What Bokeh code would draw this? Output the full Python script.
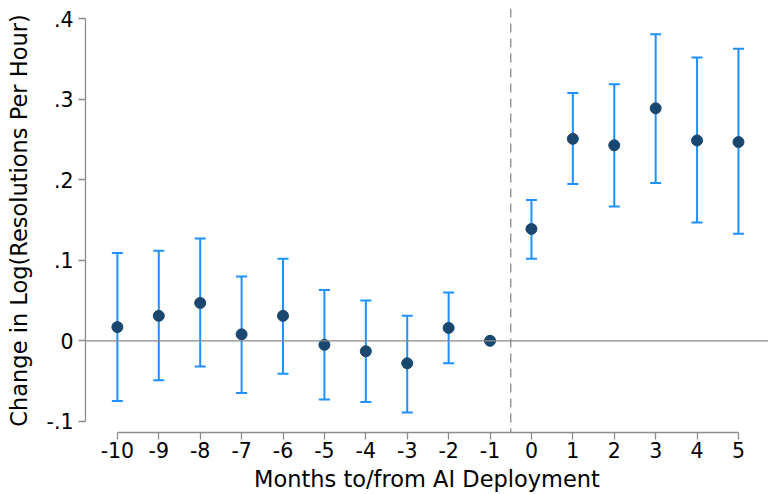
from bokeh.plotting import figure
from bokeh.models import ColumnDataSource, Whisker, TeeHead, Span, FixedTicker, Range1d
from bokeh.embed import file_html
from bokeh.resources import INLINE

months = [-10, -9, -8, -7, -6, -5, -4, -3, -2, -1, 0, 1, 2, 3, 4, 5]
month_labels = ["-10", "-9", "-8", "-7", "-6", "-5", "-4", "-3", "-2", "-1",
                "0", "1", "2", "3", "4", "5"]
coef = [0.017, 0.031, 0.047, 0.008, 0.031, -0.005, -0.013, -0.028, 0.016, 0.0,
        0.139, 0.251, 0.243, 0.289, 0.249, 0.247]
ci_low = [-0.075, -0.049, -0.032, -0.065, -0.041, -0.073, -0.076, -0.089, -0.028, 0.0,
          0.102, 0.195, 0.167, 0.196, 0.147, 0.133]
ci_high = [0.109, 0.112, 0.127, 0.080, 0.102, 0.063, 0.050, 0.031, 0.060, 0.0,
           0.175, 0.308, 0.319, 0.381, 0.352, 0.363]
y_ticks = [-0.1, 0.0, 0.1, 0.2, 0.3, 0.4]
y_tick_labels = ["-.1", "0", ".1", ".2", ".3", ".4"]
x_title = "Months to/from AI Deployment"
y_title = "Change in Log(Resolutions Per Hour)"

src = ColumnDataSource(dict(x=months, y=coef, lo=ci_low, hi=ci_high))

FONT = "DejaVu Sans"
AX = "#8c8c8c"

p = figure(width=768, height=494, output_backend="svg", toolbar_location=None,
           x_range=Range1d(-10.77, 5.725), y_range=Range1d(-0.114, 0.413),
           min_border_left=85, min_border_right=0, min_border_top=8, min_border_bottom=61)
p.outline_line_color = None
p.grid.visible = False
p.background_fill_color = "white"
p.border_fill_color = "white"

p.add_layout(Span(location=0, dimension="width", line_color="#8a8a8a", line_width=1.3))
p.add_layout(Span(location=-0.5, dimension="height", line_color="#8a8a8a",
                  line_width=1.3, line_dash="9 6"))

p.scatter("x", "y", source=src, size=11, color="#1a476f")

w = Whisker(base="x", lower="lo", upper="hi", source=src, line_color="#1e90ff", line_width=2,
            upper_head=TeeHead(size=11, line_color="#1e90ff", line_width=2),
            lower_head=TeeHead(size=11, line_color="#1e90ff", line_width=2))
p.add_layout(w)

xa = p.xaxis[0]
xa.ticker = FixedTicker(ticks=months)
xa.major_label_overrides = {t: l for t, l in zip(months, month_labels)}
xa.bounds = (-10, 5)
xa.axis_label = x_title
xa.axis_label_text_font = FONT
xa.axis_label_text_font_size = "22.5px"
xa.axis_label_text_font_style = "normal"
xa.axis_label_text_color = "black"
xa.axis_label_standoff = 5
xa.major_label_text_font = FONT
xa.major_label_text_font_size = "20.5px"
xa.major_label_text_color = "black"
xa.major_label_standoff = 2
xa.axis_line_color = AX
xa.axis_line_width = 1.3
xa.major_tick_line_color = AX
xa.major_tick_line_width = 1.3
xa.major_tick_out = 7
xa.major_tick_in = 0
xa.minor_tick_line_color = None

ya = p.yaxis[0]
ya.ticker = FixedTicker(ticks=y_ticks)
ya.major_label_overrides = {t: l for t, l in zip(y_ticks, y_tick_labels)}
ya.bounds = (-0.1, 0.4)
ya.axis_label = y_title
ya.axis_label_text_font = FONT
ya.axis_label_text_font_size = "22.5px"
ya.axis_label_text_font_style = "normal"
ya.axis_label_text_color = "black"
ya.axis_label_standoff = 12
ya.major_label_text_font = FONT
ya.major_label_text_font_size = "20.5px"
ya.major_label_text_color = "black"
ya.major_label_standoff = 5
ya.major_label_orientation = "horizontal"
ya.axis_line_color = AX
ya.axis_line_width = 1.3
ya.major_tick_line_color = AX
ya.major_tick_line_width = 1.3
ya.major_tick_out = 7
ya.major_tick_in = 0
ya.minor_tick_line_color = None

open("out.html", "w").write(file_html(p, INLINE))
